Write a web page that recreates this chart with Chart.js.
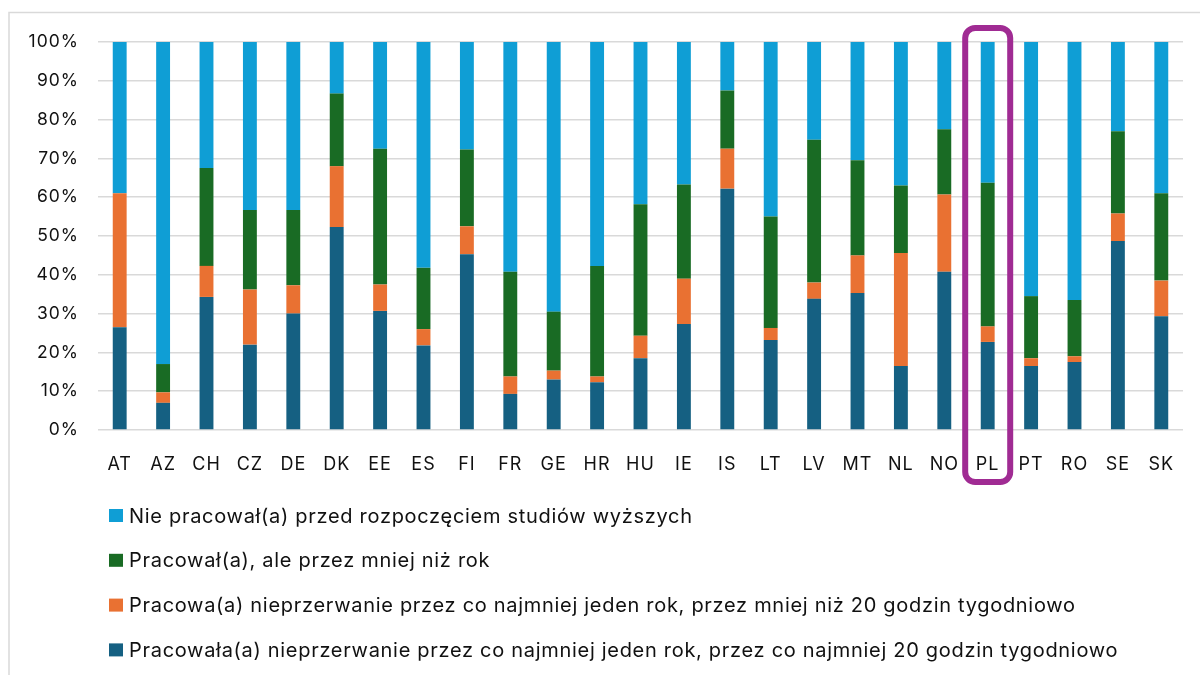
<!DOCTYPE html>
<html>
<head>
<meta charset="utf-8">
<script src="https://cdn.jsdelivr.net/npm/chart.js@4.4.1/dist/chart.umd.min.js"></script>
<style>
  html, body { margin: 0; padding: 0; background: #fff; }
  #wrap { width: 1200px; height: 675px; position: relative; }
</style>
</head>
<body>
<div id="wrap"><canvas id="workChart"></canvas></div>
<script>
// Countries on the x axis
const countries = ['AT', 'AZ', 'CH', 'CZ', 'DE', 'DK', 'EE', 'ES', 'FI', 'FR', 'GE', 'HR', 'HU',
    'IE', 'IS', 'LT', 'LV', 'MT', 'NL', 'NO', 'PL', 'PT', 'RO', 'SE', 'SK'];

// Share of students (%), bottom segment first
const workedFullTime = [26.5, 7, 34.3, 22, 30, 52.3, 30.7, 21.8, 45.3, 9.3, 13, 12.3, 18.5,
    27.3, 62.2, 23.2, 33.8, 35.3, 16.5, 40.8, 22.7, 16.5, 17.5, 48.7, 29.3];
const workedPartTime = [34.5, 2.7, 8, 14.2, 7.3, 15.7, 6.8, 4.2, 7.2, 4.5, 2.3, 1.5, 5.8,
    11.7, 10.3, 3.1, 4.2, 9.7, 29.1, 19.9, 4, 2, 1.5, 7.1, 9.2];
const workedLessThanYear = [0, 7.3, 25.2, 20.5, 19.4, 18.7, 35, 15.8, 19.8, 27, 15.2, 28.5, 33.9,
    24.3, 15, 28.7, 36.8, 24.5, 17.4, 16.8, 37, 16, 14.5, 21.2, 22.5];
const notWorked = [39, 83, 32.5, 43.3, 43.3, 13.3, 27.5, 58.2, 27.7, 59.2, 69.5, 57.7, 41.8,
    36.7, 12.5, 45, 25.2, 30.5, 37, 22.5, 36.3, 65.5, 66.5, 23, 39];

const seriesLabels = [
    'Pracowała(a) nieprzerwanie przez co najmniej jeden rok, przez co najmniej 20 godzin tygodniowo',
    'Pracowa(a) nieprzerwanie przez co najmniej jeden rok, przez mniej niż 20 godzin tygodniowo',
    'Pracował(a), ale przez mniej niż rok',
    'Nie pracował(a) przed rozpoczęciem studiów wyższych'
];
const highlighted = 'PL';

const FONT = 'Inter, "Liberation Sans", sans-serif';

// outer chart frame (only top and left edges visible in the crop)
// also widens the tick text a bit, the original font (Aptos) runs wider than Inter
const framePlugin = {
    id: 'frame',
    beforeDraw(chart) {
        const ctx = chart.ctx;
        ctx.letterSpacing = '1px';
        ctx.save();
        ctx.strokeStyle = '#d9d9d9';
        ctx.lineWidth = 1.5;
        ctx.beginPath();
        ctx.moveTo(9, 675);
        ctx.lineTo(9, 12.5);
        ctx.lineTo(1200, 12.5);
        ctx.stroke();
        ctx.restore();
    }
};

// purple rounded box around the highlighted country
const highlightPlugin = {
    id: 'highlight',
    afterDatasetsDraw(chart) {
        const x = chart.scales.x.getPixelForValue(countries.indexOf(highlighted));
        const ctx = chart.ctx;
        ctx.save();
        ctx.strokeStyle = '#A02B93';
        ctx.lineWidth = 6;
        ctx.beginPath();
        ctx.roundRect(x - 22.5, 28, 45, 454, 10);
        ctx.stroke();
        ctx.restore();
    }
};

// legend: one entry per line, top series first (like the Excel original)
const stackedLegend = {
    id: 'stackedLegend',
    afterDraw(chart) {
        const ctx = chart.ctx;
        const sets = chart.data.datasets.slice().reverse();
        ctx.save();
        ctx.font = '20px ' + FONT;
        ctx.letterSpacing = '0.7px';
        ctx.textBaseline = 'middle';
        ctx.textAlign = 'left';
        sets.forEach((ds, i) => {
            const y = chart.chartArea.bottom + 85.5 + i * 44.8;
            ctx.fillStyle = ds.backgroundColor;
            ctx.fillRect(109, y - 6.5, 14, 13);
            ctx.fillStyle = '#111';
            ctx.fillText(ds.label, 129, y + 1);
        });
        ctx.restore();
    }
};

const ctx = document.getElementById('workChart').getContext('2d');
const workChart = new Chart(ctx, {
    type: 'bar',
    data: {
        labels: countries,
        datasets: [
            { label: seriesLabels[0], data: workedFullTime, backgroundColor: '#156082' },
            { label: seriesLabels[1], data: workedPartTime, backgroundColor: '#E97132' },
            { label: seriesLabels[2], data: workedLessThanYear, backgroundColor: '#196B24' },
            { label: seriesLabels[3], data: notWorked, backgroundColor: '#0F9ED5' }
        ]
    },
    options: {
        responsive: true,
        maintainAspectRatio: false,
        animation: false,
        datasets: {
            bar: { categoryPercentage: 1, barPercentage: 0.32, borderWidth: 0 }
        },
        layout: {
            padding: { left: 0, right: 17, top: 42, bottom: 194 }
        },
        plugins: {
            tooltip: { enabled: false },
            legend: { display: false }
        },
        scales: {
            x: {
                stacked: true,
                grid: { display: false },
                border: { display: false },
                ticks: {
                    color: '#111',
                    padding: 16,
                    maxRotation: 0,
                    font: { family: FONT, size: 18 }
                },
                afterFit(scale) { scale.height = 51; }
            },
            y: {
                stacked: true,
                min: 0,
                max: 100,
                grid: { color: '#d9d9d9', lineWidth: 1.5, drawTicks: false },
                border: { display: false },
                ticks: {
                    stepSize: 10,
                    padding: 19,
                    color: '#111',
                    font: { family: FONT, size: 17.5 },
                    callback: value => value + '%'
                },
                afterFit(scale) { scale.width = 98; }
            }
        }
    },
    plugins: [framePlugin, highlightPlugin, stackedLegend]
});
</script>
</body>
</html>
